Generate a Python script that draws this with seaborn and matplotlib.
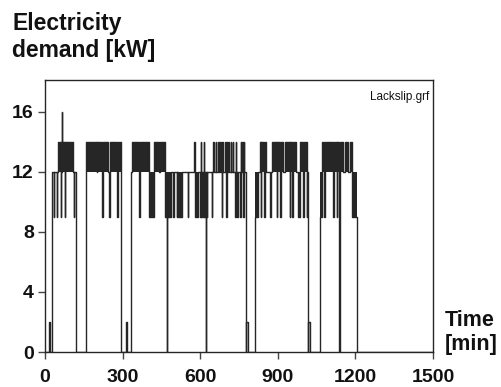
import matplotlib
matplotlib.use("Agg")
import matplotlib.pyplot as plt
import numpy as np
import pandas as pd
import seaborn as sns

# load profile: demand holds from each time until the next one
time_min = [
    0, 15, 21, 28, 34, 36, 46, 48, 51, 61, 63, 66, 67, 76, 78, 108, 111, 114, 119,
    157, 160, 200, 203, 222, 226, 245, 249, 252, 278, 281, 292, 294, 313, 318,
    331, 334, 337, 365, 367, 402, 420, 439, 446, 464, 470, 472, 487,
    496, 497, 509, 510, 515, 528, 552, 553, 576, 578, 592, 600, 602, 604, 607,
    610, 613, 615, 617, 621, 624, 625, 627,
    644, 646, 651, 653, 660, 662, 670, 672, 677, 679, 683, 685, 687, 696, 698,
    701, 703, 705, 709, 711, 718, 720, 726, 728, 735, 737, 739, 743, 745, 754,
    756, 758, 763, 765, 767, 769, 771, 776, 777, 784,
    812, 824, 831, 834, 836, 847, 849, 855, 870, 872, 877, 896, 898, 909, 911,
    921, 928, 947, 949, 956, 958, 970, 977, 985, 999, 1001, 1011, 1013, 1016,
    1018, 1025,
    1063, 1071, 1080, 1083, 1113, 1116, 1127, 1130, 1137, 1139, 1141, 1153, 1160,
    1173, 1179, 1186, 1205, 1500,
]
demand_kw = [
    0, 2, 0, 12, 9, 12, 9, 12, 14, 9, 12, 16, 14, 9, 14, 12, 9, 12, 0,
    9, 14, 12, 14, 9, 14, 12, 9, 14, 9, 14, 12, 0, 2, 0,
    9, 12, 14, 9, 14, 9, 14, 12, 14, 9, 0, 9, 12,
    9, 12, 9, 12, 9, 12, 9, 12, 14, 9, 12, 9, 14, 9, 12,
    9, 14, 9, 12, 0, 12, 9, 12,
    9, 12, 14, 12, 14, 12, 14, 12, 14, 12, 9, 14, 12, 14, 12,
    9, 14, 12, 14, 12, 14, 12, 14, 12, 9, 14, 12, 9, 12, 9,
    14, 12, 14, 12, 9, 14, 12, 0, 2, 0,
    9, 12, 14, 9, 14, 9, 14, 12, 9, 12, 14, 9, 14, 9, 14,
    12, 14, 9, 14, 9, 14, 12, 9, 14, 9, 14, 9, 12, 0,
    2, 0,
    9, 14, 9, 14, 9, 14, 9, 14, 0, 12, 14, 12, 14,
    12, 14, 9, 0, 0,
]

x_ticks = [0, 300, 600, 900, 1200, 1500]
y_ticks = [0, 4, 8, 12, 16]

INK = "#262626"


def main() -> None:
    df = pd.DataFrame({"time": time_min, "kw": demand_kw})

    sns.set_theme(style="ticks", context="paper")
    plt.rcParams["font.family"] = ["Liberation Sans", "DejaVu Sans"]

    fig = plt.figure(figsize=(5.02, 3.87), dpi=100)
    ax = fig.add_axes([0.0896, 0.0904, 0.773, 0.703])

    # the fast 12/14 and 12/9 cycling shows up as dark bands
    kw = df["kw"].to_numpy(dtype=float)
    lower = np.where(kw >= 9, np.minimum(kw, 12), kw)
    upper = np.where(kw >= 9, np.maximum(kw, 12), kw)
    ax.fill_between(df["time"], lower, upper, step="post", color=INK, lw=0)

    sns.lineplot(
        data=df, x="time", y="kw", ax=ax, drawstyle="steps-post",
        estimator=None, color=INK, lw=1.0,
    )

    ax.set_xlim(0, 1500)
    ax.set_ylim(0, 18.13)
    ax.set_xticks(x_ticks)
    ax.set_yticks(y_ticks)
    ax.set_xlabel("")
    ax.set_ylabel("")
    for side in ["left", "right", "top", "bottom"]:
        ax.spines[side].set_visible(True)
        ax.spines[side].set_color(INK)
        ax.spines[side].set_linewidth(1.0)
    ax.tick_params(axis="both", direction="out", length=5, width=1.0, color="#444444",
                   labelsize=14, labelcolor="#111111")
    ax.tick_params(axis="x", pad=7.5)
    ax.tick_params(axis="y", pad=3)
    for lab in ax.get_xticklabels() + ax.get_yticklabels():
        lab.set_fontweight("bold")

    fig.text(0.024, 0.969, "Electricity\ndemand [kW]", ha="left", va="top",
             fontsize=16.5, fontweight="bold", color="#111111", linespacing=1.22)
    fig.text(0.886, 0.198, "Time\n[min]", ha="left", va="top",
             fontsize=15.5, fontweight="bold", color="#111111", linespacing=1.15)
    ax.text(0.99, 0.9375, "Lackslip.grf", transform=ax.transAxes, ha="right", va="center",
            fontsize=8.5, color="#111111")

    fig.savefig("out.png", dpi=100)
    plt.close(fig)


if __name__ == "__main__":
    main()
